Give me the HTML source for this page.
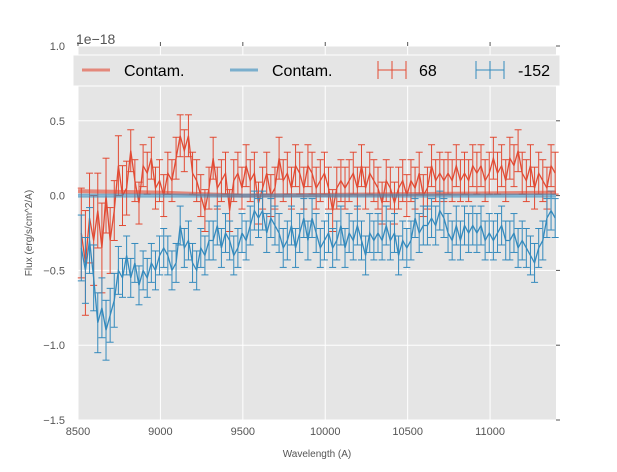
<!DOCTYPE html>
<html><head><meta charset="utf-8"><style>
html,body{margin:0;padding:0;background:#fff;}
svg text{font-family:"Liberation Sans",sans-serif;}
</style></head><body>
<svg id="chart" width="617" height="467" viewBox="0 0 617 467">
<rect x="78" y="46" width="478" height="374" fill="#e5e5e5"/>
<g id="grid"></g><g id="series"></g><g id="axes"></g>
<g id="legend">
<rect x="73" y="55" width="487" height="31" fill="#e5e5e5" stroke="#fff" stroke-width="1"/>
<g><line x1="82" y1="70" x2="110" y2="70" stroke="#e24a33" stroke-opacity="0.6" stroke-width="3"/><text x="124" y="76" font-size="16" fill="#000">Contam.</text></g>
<g><line x1="230" y1="70" x2="258" y2="70" stroke="#348abd" stroke-opacity="0.6" stroke-width="3"/><text x="272" y="76" font-size="16" fill="#000">Contam.</text></g>
<g><line x1="378" y1="70" x2="406" y2="70" stroke="#e24a33" stroke-width="1"/><line x1="378" y1="61" x2="378" y2="79" stroke="#e24a33"/><line x1="406" y1="61" x2="406" y2="79" stroke="#e24a33"/><line x1="392" y1="61" x2="392" y2="79" stroke="#e24a33"/><text x="419" y="76" font-size="16" fill="#000">68</text></g>
<g><line x1="476" y1="70" x2="504" y2="70" stroke="#348abd" stroke-width="1"/><line x1="476" y1="61" x2="476" y2="79" stroke="#348abd"/><line x1="504" y1="61" x2="504" y2="79" stroke="#348abd"/><line x1="490" y1="61" x2="490" y2="79" stroke="#348abd"/><text x="518" y="76" font-size="16" fill="#000">-152</text></g>
</g>
<text x="76" y="44" font-size="14" fill="#555">1e−18</text>
<text x="317" y="457" font-size="10" fill="#555" text-anchor="middle">Wavelength (A)</text>
<text x="32" y="233" font-size="10" fill="#555" text-anchor="middle" transform="rotate(-90 32 233)">Flux (erg/s/cm^2/A)</text>
</svg>
<script>
const xStart = 8520, xStep = 25;
const red = [-0.25,-0.45,-0.15,-0.3,-0.1,-0.35,0.0,-0.3,
-0.1,0.2,0.0,0.05,0.3,0.1,-0.05,0.2,
0.15,0.25,0.05,0.1,0.0,0.15,0.1,0.25,
0.4,0.3,0.4,0.15,0.1,0.0,-0.1,0.05,
0.25,0.05,0.1,0.15,-0.1,0.1,0.15,0.05,
0.2,0.1,0.15,-0.05,0.05,0.15,0.0,0.05,
0.25,0.1,0.15,0.05,0.2,0.15,0.05,0.2,
0.15,0.05,0.1,0.15,0.05,-0.1,0.05,0.1,
0.05,0.1,0.15,0.05,0.2,0.05,0.15,0.1,
0.05,-0.05,0.1,0.05,-0.05,0.05,0.1,0.0,
0.1,0.05,0.15,0.0,0.05,0.2,0.1,0.15,
0.1,0.15,0.1,0.2,0.1,0.15,0.1,0.2,
0.15,0.2,0.1,0.15,0.25,0.15,0.2,0.1,
0.25,0.2,0.3,0.15,0.1,0.2,0.05,0.15,
0.1,0.05,0.2,0.15];
const blue = [-0.35,-0.5,-0.3,-0.55,-0.85,-0.75,-0.9,-0.8,
-0.7,-0.5,-0.55,-0.4,-0.55,-0.45,-0.6,-0.5,
-0.55,-0.45,-0.5,-0.4,-0.35,-0.4,-0.5,-0.45,
-0.2,-0.35,-0.3,-0.45,-0.5,-0.35,-0.4,-0.3,
-0.3,-0.2,-0.35,-0.25,-0.3,-0.4,-0.35,-0.25,
-0.3,-0.2,-0.1,-0.15,-0.1,-0.25,-0.15,-0.2,
-0.25,-0.35,-0.3,-0.2,-0.35,-0.25,-0.15,-0.3,
-0.15,-0.25,-0.35,-0.3,-0.25,-0.35,-0.3,-0.2,
-0.35,-0.25,-0.3,-0.2,-0.3,-0.4,-0.25,-0.3,
-0.25,-0.3,-0.2,-0.3,-0.25,-0.4,-0.3,-0.35,
-0.3,-0.15,-0.25,-0.2,-0.2,-0.15,-0.2,-0.1,
-0.15,-0.25,-0.3,-0.2,-0.3,-0.2,-0.25,-0.2,
-0.25,-0.2,-0.3,-0.25,-0.3,-0.25,-0.2,-0.3,
-0.3,-0.25,-0.35,-0.3,-0.35,-0.4,-0.45,-0.35,
-0.3,-0.15,-0.1,-0.15];
const redErr = [0.3,0.35,0.3,0.3,0.25,0.3,0.25,0.22,0.2,0.2,0.2,0.18];
const blueErr = [0.22,0.22,0.22,0.22,0.2,0.2,0.2,0.18,0.18,0.16];
const defaultRedErr = 0.14, defaultBlueErr = 0.13;
const contamRedX = [8500, 9000, 9500, 10000, 10500, 11000, 11400];
const contamRedY = [0.03, 0.02, 0.0, 0.005, 0.01, 0.015, 0.02];
const contamBlueX = [8500, 11400];
const contamBlueY = [0.0, 0.0];
const xTicks = [8500, 9000, 9500, 10000, 10500, 11000];
const xTickLabels = ["8500","9000","9500","10000","10500","11000"];
const yTicks = [1.0, 0.5, 0.0, -0.5, -1.0, -1.5];
const yTickLabels = ["1.0","0.5","0.0","−0.5","−1.0","−1.5"];

const X0=78,X1=556,Y0=46,Y1=420, xMin=8500,xMax=11400,yMin=-1.5,yMax=1.0;
const sx=v=>X0+(v-xMin)/(xMax-xMin)*(X1-X0);
const sy=v=>Y1-(v-yMin)/(yMax-yMin)*(Y1-Y0);
const NS='http://www.w3.org/2000/svg';
function mk(tag,attrs,parent){const e=document.createElementNS(NS,tag);for(const k in attrs)e.setAttribute(k,attrs[k]);parent.appendChild(e);return e;}
const grid=document.getElementById('grid'),axes=document.getElementById('axes'),series=document.getElementById('series');
xTicks.forEach((t,i)=>{
  const g=mk('line',{x1:sx(t),x2:sx(t),y1:Y0,y2:Y1,stroke:'#fff','stroke-width':1},grid);
  
  
  mk('line',{x1:sx(t),x2:sx(t),y1:Y0-4,y2:Y0,stroke:'#555'},axes);
  const tx=mk('text',{x:sx(t),y:Y1+15,'font-size':11,fill:'#555','text-anchor':'middle'},axes);
  tx.textContent=xTickLabels[i];
  
  
});
yTicks.forEach((t,i)=>{
  const g=mk('line',{x1:X0,x2:X1,y1:sy(t),y2:sy(t),stroke:'#fff','stroke-width':1},grid);
  
  
  mk('line',{x1:X1,x2:X1+4,y1:sy(t),y2:sy(t),stroke:'#555'},axes);
  const tx=mk('text',{x:X0-13,y:sy(t)+4,'font-size':11,fill:'#555','text-anchor':'end'},axes);
  tx.textContent=yTickLabels[i];
  
  
});
function contam(xs,ys,color,name){
  const l=mk('polyline',{points:xs.map((x,i)=>sx(x)+','+sy(ys[i])).join(' '),fill:'none',stroke:color,'stroke-opacity':0.6,'stroke-width':4},series);
  
  
}
function errSeries(vals,errs,def,color,name){
  const g=mk('g',{},series);
  
  
  const pts=[];
  vals.forEach((v,i)=>{
    const x=sx(xStart+i*xStep), e=(i<errs.length?errs[i]:def);
    pts.push(x+','+sy(v));
    mk('line',{x1:x,x2:x,y1:sy(v+e),y2:sy(v-e),stroke:color,'stroke-width':1},g);
    mk('line',{x1:x-3.5,x2:x+3.5,y1:sy(v+e),y2:sy(v+e),stroke:color,'stroke-width':1},g);
    mk('line',{x1:x-3.5,x2:x+3.5,y1:sy(v-e),y2:sy(v-e),stroke:color,'stroke-width':1},g);
  });
  mk('polyline',{points:pts.join(' '),fill:'none',stroke:color,'stroke-width':1.3},g);
}
errSeries(red,redErr,defaultRedErr,'#e24a33','series-68');
errSeries(blue,blueErr,defaultBlueErr,'#348abd','series-minus-152');
contam(contamRedX,contamRedY,'#e24a33','contam-line-red');
contam(contamBlueX,contamBlueY,'#348abd','contam-line-blue');
</script>
</body></html>
